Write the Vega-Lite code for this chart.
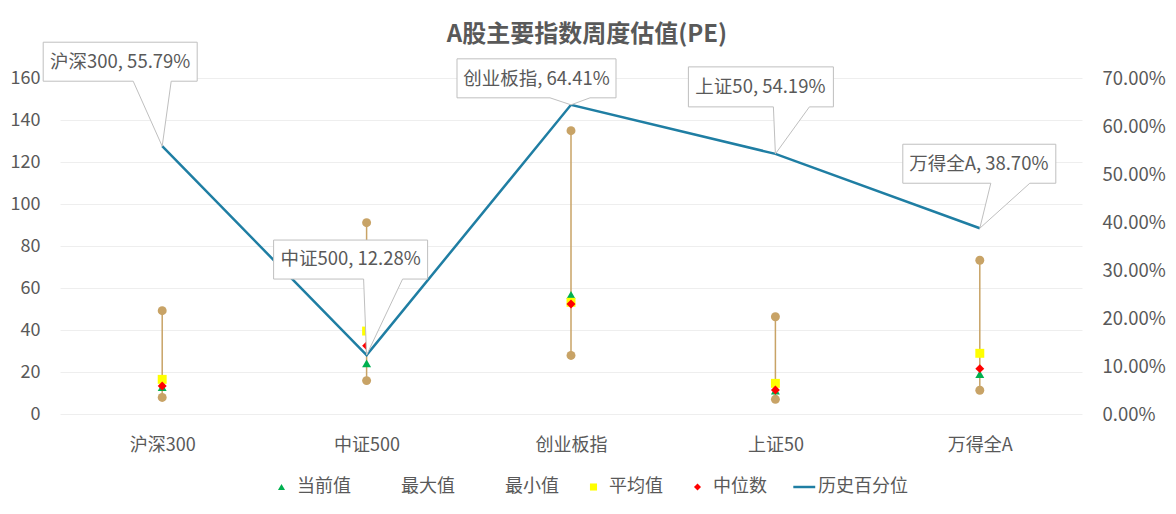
{
  "$schema": "https://vega.github.io/schema/vega-lite/v6.json",
  "width": 1022,
  "height": 336,
  "autosize": {"type": "none"},
  "padding": {"left": 60, "top": 78, "right": 94, "bottom": 100},
  "background": "white",
  "title": {"text": "A股主要指数周度估值(PE)", "fontSize": 24, "fontWeight": "bold", "color": "#595959", "anchor": "middle", "frame": "group", "offset": 30, "dx": 16, "dy": 37, "font": "Noto Sans CJK SC"},
  "data": {
    "values": [
      {"指数": "沪深300", "当前值": 12.8, "最大值": 49.2, "最小值": 7.9, "平均值": 16.5, "中位数": 13.3, "历史百分位": 0.5579, "标注": "沪深300, 55.79%"},
      {"指数": "中证500", "当前值": 24.1, "最大值": 91.1, "最小值": 15.9, "平均值": 39.5, "中位数": 32.5, "历史百分位": 0.1228, "标注": "中证500, 12.28%"},
      {"指数": "创业板指", "当前值": 56.7, "最大值": 134.9, "最小值": 27.9, "平均值": 53.2, "中位数": 52.4, "历史百分位": 0.6441, "标注": "创业板指, 64.41%"},
      {"指数": "上证50", "当前值": 11.1, "最大值": 46.3, "最小值": 7.0, "平均值": 14.6, "中位数": 11.4, "历史百分位": 0.5419, "标注": "上证50, 54.19%"},
      {"指数": "万得全A", "当前值": 19.0, "最大值": 73.2, "最小值": 11.3, "平均值": 28.9, "中位数": 21.6, "历史百分位": 0.387, "标注": "万得全A, 38.70%"}
    ]
  },
  "encoding": {
    "x": {
      "field": "指数", "type": "nominal", "sort": null,
      "scale": {"type": "point", "padding": 0.5},
      "axis": {"title": null, "labelAngle": 0, "labelFontSize": 18, "labelColor": "#595959", "labelPadding": 22, "domain": false, "ticks": false, "grid": false}
    }
  },
  "layer": [
    {
      "layer": [
        {
          "mark": {"type": "rule", "color": "#c8a366", "strokeWidth": 1.5},
          "encoding": {
            "y": {"field": "最小值", "type": "quantitative", "scale": {"domain": [0, 160], "nice": false},
              "axis": {"title": null, "orient": "left", "values": [0, 20, 40, 60, 80, 100, 120, 140, 160], "grid": true, "gridColor": "#eeeeee", "domain": false, "ticks": false, "labelPadding": 20, "labelFontSize": 18, "labelColor": "#595959"}},
            "y2": {"field": "最大值"}
          }
        },
        {
          "mark": {"type": "point", "shape": "circle", "filled": true, "size": 80, "color": "#c8a366", "opacity": 1},
          "encoding": {"y": {"field": "最大值", "type": "quantitative", "axis": {"title": null}}}
        },
        {
          "mark": {"type": "point", "shape": "circle", "filled": true, "size": 80, "color": "#c8a366", "opacity": 1},
          "encoding": {"y": {"field": "最小值", "type": "quantitative", "axis": {"title": null}}}
        },
        {
          "transform": [{"fold": ["当前值", "平均值", "中位数"], "as": ["系列", "值"]}],
          "mark": {"type": "point", "filled": true, "size": 80, "opacity": 1},
          "encoding": {
            "y": {"field": "值", "type": "quantitative", "axis": {"title": null}},
            "color": {"field": "系列", "type": "nominal",
              "scale": {"domain": ["当前值", "最大值", "最小值", "平均值", "中位数", "历史百分位"], "range": ["#00b050", "rgba(0,0,0,0)", "rgba(0,0,0,0)", "#ffff00", "#ff0000", "#1f7ea3"]},
              "legend": {"title": null}},
            "shape": {"field": "系列", "type": "nominal",
              "scale": {"domain": ["当前值", "最大值", "最小值", "平均值", "中位数", "历史百分位"], "range": ["triangle-up", "circle", "circle", "square", "diamond", "M-2.6,-0.35L3.6,-0.35L3.6,0.35L-2.6,0.35Z"]},
              "legend": {"title": null}}
          }
        }
      ]
    },
    {
      "layer": [
        {
          "mark": {"type": "line", "color": "#1f7ea3", "strokeWidth": 2.5},
          "encoding": {
            "y": {"field": "历史百分位", "type": "quantitative", "scale": {"domain": [0, 0.7], "nice": false},
              "axis": {"title": null, "orient": "right", "format": ".2%", "values": [0, 0.1, 0.2, 0.3, 0.4, 0.5, 0.6, 0.7], "grid": false, "domain": false, "ticks": false, "labelPadding": 20, "labelFontSize": 18.5, "labelColor": "#595959"}}
          }
        },
        {
          "transform": [{"filter": "datum['指数'] === '沪深300'"}],
          "layer": [
            {"mark": {"type": "point", "shape": "M-119,-104L35,-104L35,-65L9,-65L0,0L-29,-65L-119,-65Z", "size": 4, "filled": true, "fill": "white", "stroke": "#bfbfbf", "strokeWidth": 1, "opacity": 1},
             "encoding": {"y": {"field": "历史百分位", "type": "quantitative", "axis": {"title": null}}}},
            {"mark": {"type": "text", "dx": -42, "dy": -84.5, "fontSize": 18.5, "color": "#595959", "align": "center", "baseline": "middle"},
             "encoding": {"y": {"field": "历史百分位", "type": "quantitative", "axis": {"title": null}}, "text": {"field": "标注"}}}
          ]
        },
        {
          "transform": [{"filter": "datum['指数'] === '中证500'"}],
          "layer": [
            {"mark": {"type": "point", "shape": "M-93,-115L61,-115L61,-76L36,-76L0,0L-3,-76L-93,-76Z", "size": 4, "filled": true, "fill": "white", "stroke": "#bfbfbf", "strokeWidth": 1, "opacity": 1},
             "encoding": {"y": {"field": "历史百分位", "type": "quantitative", "axis": {"title": null}}}},
            {"mark": {"type": "text", "dx": -16, "dy": -96, "fontSize": 18.5, "color": "#595959", "align": "center", "baseline": "middle"},
             "encoding": {"y": {"field": "历史百分位", "type": "quantitative", "axis": {"title": null}}, "text": {"field": "标注"}}}
          ]
        },
        {
          "transform": [{"filter": "datum['指数'] === '创业板指'"}],
          "layer": [
            {"mark": {"type": "point", "shape": "M-114,-46L45,-46L45,-7L19,-7L0,0L-21,-7L-114,-7Z", "size": 4, "filled": true, "fill": "white", "stroke": "#bfbfbf", "strokeWidth": 1, "opacity": 1},
             "encoding": {"y": {"field": "历史百分位", "type": "quantitative", "axis": {"title": null}}}},
            {"mark": {"type": "text", "dx": -34.5, "dy": -26, "fontSize": 18.5, "color": "#595959", "align": "center", "baseline": "middle"},
             "encoding": {"y": {"field": "历史百分位", "type": "quantitative", "axis": {"title": null}}, "text": {"field": "标注"}}}
          ]
        },
        {
          "transform": [{"filter": "datum['指数'] === '上证50'"}],
          "layer": [
            {"mark": {"type": "point", "shape": "M-87,-87L58,-87L58,-47L34,-47L0,0L-2,-47L-87,-47Z", "size": 4, "filled": true, "fill": "white", "stroke": "#bfbfbf", "strokeWidth": 1, "opacity": 1},
             "encoding": {"y": {"field": "历史百分位", "type": "quantitative", "axis": {"title": null}}}},
            {"mark": {"type": "text", "dx": -15, "dy": -67, "fontSize": 18.5, "color": "#595959", "align": "center", "baseline": "middle"},
             "encoding": {"y": {"field": "历史百分位", "type": "quantitative", "axis": {"title": null}}, "text": {"field": "标注"}}}
          ]
        },
        {
          "transform": [{"filter": "datum['指数'] === '万得全A'"}],
          "layer": [
            {"mark": {"type": "point", "shape": "M-77,-84L76,-84L76,-45L50,-45L0,0L11,-45L-77,-45Z", "size": 4, "filled": true, "fill": "white", "stroke": "#bfbfbf", "strokeWidth": 1, "opacity": 1},
             "encoding": {"y": {"field": "历史百分位", "type": "quantitative", "axis": {"title": null}}}},
            {"mark": {"type": "text", "dx": -1, "dy": -64, "fontSize": 18.5, "color": "#595959", "align": "center", "baseline": "middle"},
             "encoding": {"y": {"field": "历史百分位", "type": "quantitative", "axis": {"title": null}}, "text": {"field": "标注"}}}
          ]
        }
      ]
    }
  ],
  "resolve": {"scale": {"y": "independent"}},
  "config": {
    "font": "Noto Sans CJK SC",
    "view": {"stroke": null},
    "axis": {"labelFont": "Noto Sans CJK SC"},
    "text": {"font": "Noto Sans CJK SC"},
    "legend": {
      "orient": "none", "legendX": 212.5, "legendY": 400, "direction": "horizontal",
      "labelFont": "Noto Sans CJK SC", "labelFontSize": 18, "labelColor": "#595959",
      "symbolSize": 50, "labelOffset": 6.5, "columnPadding": 25, "padding": 0, "symbolStrokeWidth": 0
    }
  }
}
